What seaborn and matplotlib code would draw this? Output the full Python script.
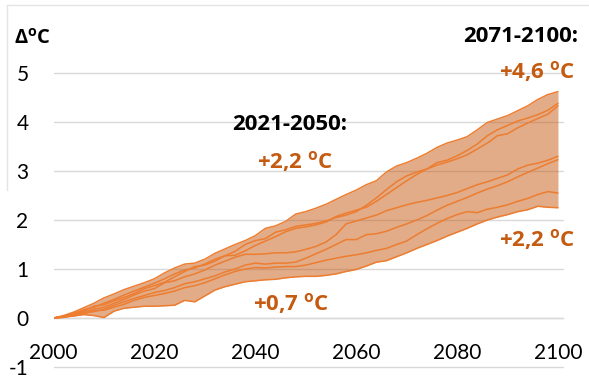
import pandas as pd
import seaborn as sns
import matplotlib.pyplot as plt
from matplotlib.lines import Line2D

# Warming relative to 2000 (°C), ensemble members sampled every two years
years = list(range(2000, 2101, 2))

run_a = [0.00, 0.05, 0.12, 0.21, 0.30, 0.41, 0.49, 0.58, 0.65, 0.72,
         0.80, 0.92, 1.02, 1.10, 1.12, 1.20, 1.32, 1.41, 1.50, 1.58,
         1.68, 1.83, 1.88, 1.97, 2.12, 2.17, 2.24, 2.32, 2.42, 2.52,
         2.61, 2.72, 2.80, 2.98, 3.10, 3.17, 3.26, 3.36, 3.48, 3.57,
         3.63, 3.70, 3.84, 3.99, 4.06, 4.13, 4.23, 4.33, 4.46, 4.56, 4.62]
run_b = [0.00, 0.04, 0.09, 0.17, 0.22, 0.30, 0.38, 0.47, 0.55, 0.63,
         0.71, 0.80, 0.90, 0.98, 1.02, 1.10, 1.20, 1.27, 1.36, 1.50,
         1.58, 1.62, 1.75, 1.80, 1.87, 1.90, 1.93, 1.98, 2.05, 2.10,
         2.17, 2.30, 2.45, 2.62, 2.78, 2.90, 2.98, 3.04, 3.17, 3.22,
         3.31, 3.42, 3.55, 3.72, 3.84, 3.93, 4.02, 4.08, 4.15, 4.24, 4.38]
run_c = [0.00, 0.03, 0.10, 0.14, 0.24, 0.27, 0.35, 0.42, 0.50, 0.60,
         0.66, 0.73, 0.84, 0.95, 1.05, 1.08, 1.16, 1.27, 1.28, 1.37,
         1.48, 1.57, 1.66, 1.76, 1.83, 1.86, 1.90, 1.96, 2.07, 2.14,
         2.20, 2.26, 2.38, 2.52, 2.66, 2.80, 2.93, 3.04, 3.12, 3.18,
         3.25, 3.33, 3.45, 3.57, 3.72, 3.76, 3.88, 3.98, 4.07, 4.16, 4.33]
run_d = [0.00, 0.02, 0.07, 0.12, 0.18, 0.22, 0.30, 0.38, 0.47, 0.55,
         0.60, 0.72, 0.76, 0.84, 0.90, 0.98, 1.08, 1.16, 1.24, 1.30,
         1.30, 1.31, 1.33, 1.33, 1.35, 1.40, 1.46, 1.55, 1.70, 1.92,
         1.98, 2.04, 2.10, 2.19, 2.25, 2.31, 2.36, 2.40, 2.45, 2.50,
         2.56, 2.64, 2.72, 2.78, 2.85, 2.92, 3.04, 3.12, 3.16, 3.22, 3.30]
run_e = [0.00, 0.01, 0.06, 0.10, 0.13, 0.18, 0.26, 0.33, 0.40, 0.46,
         0.52, 0.56, 0.62, 0.70, 0.74, 0.80, 0.86, 0.94, 1.00, 1.08,
         1.12, 1.10, 1.12, 1.12, 1.14, 1.22, 1.31, 1.40, 1.50, 1.60,
         1.60, 1.70, 1.72, 1.77, 1.85, 1.92, 2.00, 2.09, 2.20, 2.30,
         2.38, 2.46, 2.55, 2.63, 2.70, 2.78, 2.88, 2.97, 3.06, 3.15, 3.23]
run_f = [0.00, 0.03, 0.05, 0.09, 0.15, 0.16, 0.22, 0.28, 0.36, 0.42,
         0.46, 0.50, 0.55, 0.62, 0.66, 0.72, 0.80, 0.88, 0.95, 1.00,
         1.03, 1.02, 1.04, 1.05, 1.05, 1.08, 1.13, 1.18, 1.22, 1.26,
         1.29, 1.33, 1.38, 1.42, 1.50, 1.57, 1.70, 1.82, 1.93, 2.03,
         2.11, 2.17, 2.15, 2.22, 2.26, 2.31, 2.38, 2.44, 2.52, 2.58, 2.55]
run_g = [0.00, 0.02, 0.04, 0.07, 0.05, 0.01, 0.14, 0.20, 0.22, 0.24,
         0.24, 0.25, 0.26, 0.36, 0.33, 0.45, 0.57, 0.64, 0.69, 0.74,
         0.76, 0.78, 0.79, 0.82, 0.84, 0.85, 0.85, 0.87, 0.90, 0.95,
         0.99, 1.06, 1.14, 1.17, 1.25, 1.33, 1.42, 1.50, 1.58, 1.67,
         1.75, 1.83, 1.92, 2.00, 2.06, 2.11, 2.17, 2.21, 2.28, 2.26, 2.25]

runs = {"a": run_a, "b": run_b, "c": run_c, "d": run_d,
        "e": run_e, "f": run_f, "g": run_g}

y_ticks = [-1, 0, 1, 2, 3, 4, 5]
x_labels = list(range(2000, 2101, 20))

LINE = "#ED7D31"
DARK = "#C55A11"
GRID = "#D9D9D9"

df = (pd.DataFrame({"year": years, **runs})
        .melt(id_vars="year", var_name="run", value_name="dT"))
envelope = df.groupby("year")["dT"].agg(["min", "max"])

sns.set_theme(style="white")
plt.rcParams["font.family"] = ["Lato", "DejaVu Sans"]
plt.rcParams["mathtext.fontset"] = "custom"
plt.rcParams["mathtext.rm"] = "Open Sans"
plt.rcParams["mathtext.bf"] = "Open Sans:bold"
plt.rcParams["axes.unicode_minus"] = False

W, H = 589, 380
fig = plt.figure(figsize=(W / 100, H / 100), dpi=100)
left, right, top, bottom = 53.5, 563, 73, 367
ax = fig.add_axes([left / W, 1 - bottom / H, (right - left) / W, (bottom - top) / H])

# ensemble spread and individual runs
ax.fill_between(envelope.index, envelope["min"], envelope["max"],
                color=DARK, alpha=0.5, lw=0, zorder=1)
sns.lineplot(data=df, x="year", y="dT", hue="run", palette=[LINE] * len(runs),
             lw=1.1, legend=False, errorbar=None, ax=ax, zorder=2)

ax.set_xlim(2000, 2101)
ax.set_ylim(-1, 5)
ax.set_xlabel("")
ax.set_ylabel("")

ax.set_yticks(y_ticks)
ax.set_yticklabels([str(v) for v in y_ticks])
ax.set_xticks(x_labels)
ax.set_xticks(range(2010, 2101, 20), minor=True)
ax.set_xticklabels([str(v) for v in x_labels])

for side in ["top", "right", "left"]:
    ax.spines[side].set_visible(False)
ax.spines["bottom"].set_position(("data", 0))
ax.spines["bottom"].set_color(GRID)
ax.spines["bottom"].set_linewidth(1.0)
ax.spines["bottom"].set_zorder(1.5)

ax.tick_params(axis="x", which="both", direction="inout", length=9.5,
               width=0.8, color=GRID, pad=13, labelsize=15, labelcolor="black")
ax.tick_params(axis="y", length=0, pad=18, labelsize=15, labelcolor="black")
for lbl in ax.get_yticklabels():
    lbl.set_horizontalalignment("right")

ax.yaxis.grid(True, color=GRID, lw=1.0, zorder=0)
ax.xaxis.grid(False)
ax.set_axisbelow(True)
for gl in ax.get_ygridlines():
    gl.set_clip_on(False)


def px_text(x, y, s, color="black", ha="center", size=16):
    fig.text(x / W, 1 - y / H, s, color=color, ha=ha, va="center",
             fontsize=size, fontweight="bold", family=["Open Sans", "DejaVu Sans"])


DEG = r"$^{\mathbf{o}}$C"
px_text(14, 39, "Δ" + DEG, ha="left", size=14.5)
px_text(290, 124, "2021-2050:")
px_text(295, 162, "+2,2 " + DEG, color=DARK)
px_text(578, 36, "2071-2100:", ha="right")
px_text(575, 72, "+4,6 " + DEG, color=DARK, ha="right")
px_text(575, 240, "+2,2 " + DEG, color=DARK, ha="right")
px_text(291, 304, "+0,7 " + DEG, color=DARK)

# chart frame edges
fig.add_artist(Line2D([7 / W, 1], [1 - 5 / H, 1 - 5 / H], color="#E4E4E4", lw=1))
fig.add_artist(Line2D([7 / W, 7 / W], [1 - 5 / H, 1 - 190 / H], color="#E4E4E4", lw=1))

fig.savefig("out.png", dpi=100)
